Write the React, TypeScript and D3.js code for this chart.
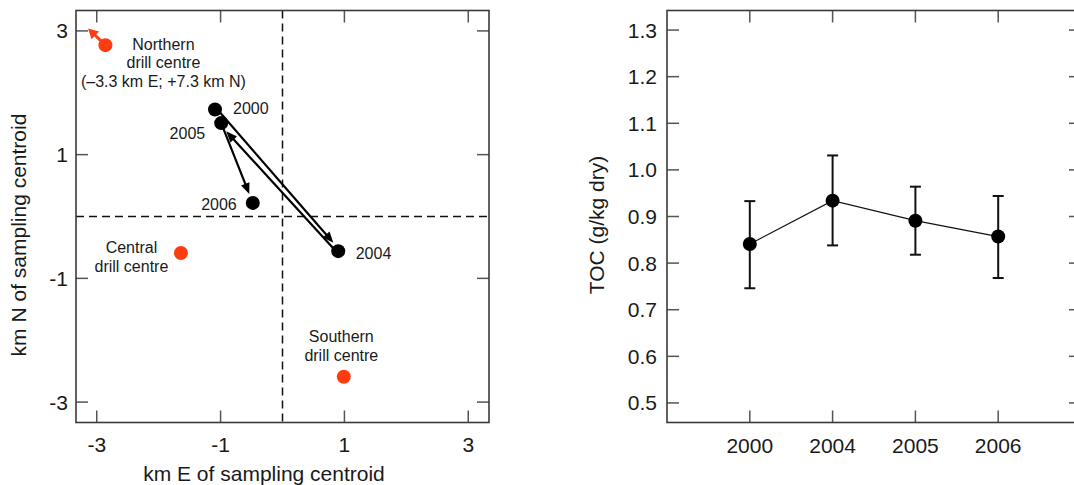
import React from "react";
import * as d3 from "d3";

// ---- Left panel data: sampling centroid offsets (km) ----
const years = ["2000", "2004", "2005", "2006"];
const eastKm = [-1.09, 0.9, -0.99, -0.48];
const northKm = [1.73, -0.56, 1.51, 0.22];
const moveFrom = ["2000", "2004", "2005"];
const moveTo = ["2004", "2005", "2006"];

const drillEast = [-2.86, -1.64, 0.99];
const drillNorth = [2.77, -0.59, -2.59];
const drillLabels = [
  ["Northern", "drill centre", "(\u20133.3 km E; +7.3 km N)"],
  ["Central", "drill centre"],
  ["Southern", "drill centre"],
];
const northPointerEnd = [-3.14, 3.04];

const mapTicks = [-3, -1, 1, 3];
const mapTickLabels = ["-3", "-1", "1", "3"];

// ---- Right panel data: TOC ----
const tocYears = ["2000", "2004", "2005", "2006"];
const tocMean = [0.841, 0.934, 0.891, 0.857];
const tocUpper = [0.933, 1.031, 0.964, 0.944];
const tocLower = [0.746, 0.838, 0.818, 0.768];
const tocTicks = [0.5, 0.6, 0.7, 0.8, 0.9, 1.0, 1.1, 1.2, 1.3];

// ---- Styling / layout ----
const FONT = "'Liberation Sans', Arial, Helvetica, sans-serif";
const RED = "#ff3b12";
const FRAME = "#3a3a3a";
const TICK = "#555";
const TXT = "#1a1a1a";
const TICK_LEN = 12;
const yearLabelStyle: Record<string, { dx: number; dy: number; anchor: string }> = {
  "2000": { dx: 18, dy: 5, anchor: "start" },
  "2005": { dx: -16, dy: 15.5, anchor: "end" },
  "2006": { dx: -16, dy: 7.5, anchor: "end" },
  "2004": { dx: 17.5, dy: 7.5, anchor: "start" },
};
const drillLabelStyle = [
  { dx: 58, dy: 4.5 },
  { dx: -49.5, dy: 0 },
  { dx: -2.5, dy: -35 },
];
const moveOffset = [1.8, 1.8, 0];

const L = { x0: 76, x1: 489, y0: 10.5, y1: 422.5 };
const R = { x0: 667, x1: 1081, y0: 10.5, y1: 422.5 };

function arrowParts(
  x1: number, y1: number, x2: number, y2: number,
  endGap: number, headLen: number, headW: number, offset: number
) {
  const dx = x2 - x1, dy = y2 - y1;
  const len = Math.hypot(dx, dy);
  const ux = dx / len, uy = dy / len;
  const nx = uy, ny = -ux;
  const ox = nx * offset, oy = ny * offset;
  const tx = x2 - ux * endGap + ox, ty = y2 - uy * endGap + oy;
  const bx = tx - ux * headLen, by = ty - uy * headLen;
  const line = { x1: x1 + ox, y1: y1 + oy, x2: bx + ux * 2, y2: by + uy * 2 };
  const head = `M${tx},${ty}L${bx + nx * headW / 2},${by + ny * headW / 2}L${bx - nx * headW / 2},${by - ny * headW / 2}Z`;
  return { line, head };
}

export default function App() {
  const xm = d3.scaleLinear().domain([-3.335, 3.335]).range([L.x0, L.x1]);
  const ym = d3.scaleLinear().domain([-3.33, 3.33]).range([L.y1, L.y0]);

  const xr = d3.scalePoint<string>().domain(tocYears).range([R.x0, R.x1]).padding(1);
  const yr = d3.scaleLinear().domain([0.458, 1.342]).range([R.y1, R.y0]);

  const idx = (y: string) => years.indexOf(y);
  const px = (y: string) => xm(eastKm[idx(y)]);
  const py = (y: string) => ym(northKm[idx(y)]);

  const tocLine = d3
    .line<number>()
    .x((_, i) => xr(tocYears[i]) as number)
    .y((d) => yr(d));

  const nx0 = xm(drillEast[0]), ny0 = ym(drillNorth[0]);
  const pointer = arrowParts(nx0, ny0, xm(northPointerEnd[0]), ym(northPointerEnd[1]), 0, 10, 11, 0);

  return (
    <svg
      width={1074}
      height={485}
      style={{ position: "absolute", left: 0, top: 0, background: "#fff" }}
      fontFamily={FONT}
    >
      {/* ================= LEFT PANEL ================= */}
      <g>
        <line x1={xm(0)} x2={xm(0)} y1={L.y0} y2={L.y1} stroke="#111" strokeWidth={1.5} strokeDasharray="8,5" />
        <line x1={L.x0} x2={L.x1} y1={ym(0)} y2={ym(0)} stroke="#111" strokeWidth={1.5} strokeDasharray="8,5" />

        {mapTicks.map((t) => (
          <g key={"mt" + t} stroke={TICK} strokeWidth={1.5}>
            <line x1={xm(t)} x2={xm(t)} y1={L.y1} y2={L.y1 - TICK_LEN} />
            <line x1={xm(t)} x2={xm(t)} y1={L.y0} y2={L.y0 + TICK_LEN} />
            <line x1={L.x0} x2={L.x0 + TICK_LEN} y1={ym(t)} y2={ym(t)} />
            <line x1={L.x1} x2={L.x1 - TICK_LEN} y1={ym(t)} y2={ym(t)} />
          </g>
        ))}
        <rect x={L.x0} y={L.y0} width={L.x1 - L.x0} height={L.y1 - L.y0} fill="none" stroke={FRAME} strokeWidth={1.6} />

        {mapTicks.map((t, i) => (
          <text key={"mxl" + t} x={xm(t)} y={451.5} textAnchor="middle" fontSize={21} fill={TXT}>
            {mapTickLabels[i]}
          </text>
        ))}
        {mapTicks.map((t, i) => (
          <text key={"myl" + t} x={68} y={ym(t) + 7.5} textAnchor="end" fontSize={21} fill={TXT}>
            {mapTickLabels[i]}
          </text>
        ))}

        <text x={264} y={481} textAnchor="middle" fontSize={21} fill={TXT}>
          km E of sampling centroid
        </text>
        <text transform={`translate(26,235) rotate(-90)`} textAnchor="middle" fontSize={21} fill={TXT}>
          km N of sampling centroid
        </text>

        {moveFrom.map((f, i) => {
          const t = moveTo[i];
          const a = arrowParts(px(f), py(f), px(t), py(t), 9.5, 11, 9, moveOffset[i]);
          return (
            <g key={"mv" + i}>
              <line {...a.line} stroke="#000" strokeWidth={2.2} />
              <path d={a.head} fill="#000" />
            </g>
          );
        })}

        {years.map((y, i) => (
          <circle key={"c" + y} cx={xm(eastKm[i])} cy={ym(northKm[i])} r={7} fill="#000" />
        ))}
        {years.map((y, i) => {
          const s = yearLabelStyle[y];
          return (
            <text
              key={"yl" + y}
              x={xm(eastKm[i]) + s.dx}
              y={ym(northKm[i]) + s.dy}
              textAnchor={s.anchor as any}
              fontSize={16}
              fill={TXT}
            >
              {y}
            </text>
          );
        })}

        <line {...pointer.line} stroke={RED} strokeWidth={3} />
        <path d={pointer.head} fill={RED} />

        {drillEast.map((e, i) => (
          <circle key={"d" + i} cx={xm(e)} cy={ym(drillNorth[i])} r={7} fill={RED} />
        ))}
        {drillLabels.map((lines, i) => (
          <text
            key={"dl" + i}
            x={xm(drillEast[i]) + drillLabelStyle[i].dx}
            y={ym(drillNorth[i]) + drillLabelStyle[i].dy}
            textAnchor="middle"
            fontSize={16}
            fill={TXT}
          >
            {lines.map((ln, j) => (
              <tspan key={j} x={xm(drillEast[i]) + drillLabelStyle[i].dx} dy={j === 0 ? 0 : 18.8}>
                {ln}
              </tspan>
            ))}
          </text>
        ))}
      </g>

      {/* ================= RIGHT PANEL ================= */}
      <g>
        {tocYears.map((y) => (
          <g key={"rt" + y} stroke={TICK} strokeWidth={1.5}>
            <line x1={xr(y)} x2={xr(y)} y1={R.y1} y2={R.y1 - TICK_LEN} />
            <line x1={xr(y)} x2={xr(y)} y1={R.y0} y2={R.y0 + TICK_LEN} />
          </g>
        ))}
        {tocTicks.map((t) => (
          <g key={"ry" + t} stroke={TICK} strokeWidth={1.5}>
            <line x1={R.x0} x2={R.x0 + TICK_LEN} y1={yr(t)} y2={yr(t)} />
            <line x1={R.x1} x2={R.x1 - TICK_LEN} y1={yr(t)} y2={yr(t)} />
          </g>
        ))}
        <rect x={R.x0} y={R.y0} width={R.x1 - R.x0} height={R.y1 - R.y0} fill="none" stroke={FRAME} strokeWidth={1.6} />

        {tocYears.map((y) => (
          <text key={"rxl" + y} x={xr(y)} y={452.5} textAnchor="middle" fontSize={21} fill={TXT}>
            {y}
          </text>
        ))}
        {tocTicks.map((t) => (
          <text key={"ryl" + t} x={657} y={yr(t) + 7.5} textAnchor="end" fontSize={21} fill={TXT}>
            {d3.format(".1f")(t)}
          </text>
        ))}

        <text transform={`translate(604,225) rotate(-90)`} textAnchor="middle" fontSize={21} fill={TXT}>
          TOC (g/kg dry)
        </text>

        {tocYears.map((y, i) => (
          <g key={"eb" + y} stroke="#111" strokeWidth={2}>
            <line x1={xr(y)} x2={xr(y)} y1={yr(tocLower[i])} y2={yr(tocUpper[i])} />
            <line x1={(xr(y) as number) - 5.5} x2={(xr(y) as number) + 5.5} y1={yr(tocUpper[i])} y2={yr(tocUpper[i])} />
            <line x1={(xr(y) as number) - 5.5} x2={(xr(y) as number) + 5.5} y1={yr(tocLower[i])} y2={yr(tocLower[i])} />
          </g>
        ))}
        <path d={tocLine(tocMean) || ""} fill="none" stroke="#111" strokeWidth={1.2} />
        {tocYears.map((y, i) => (
          <circle key={"tp" + y} cx={xr(y)} cy={yr(tocMean[i])} r={7} fill="#000" />
        ))}
      </g>
    </svg>
  );
}
